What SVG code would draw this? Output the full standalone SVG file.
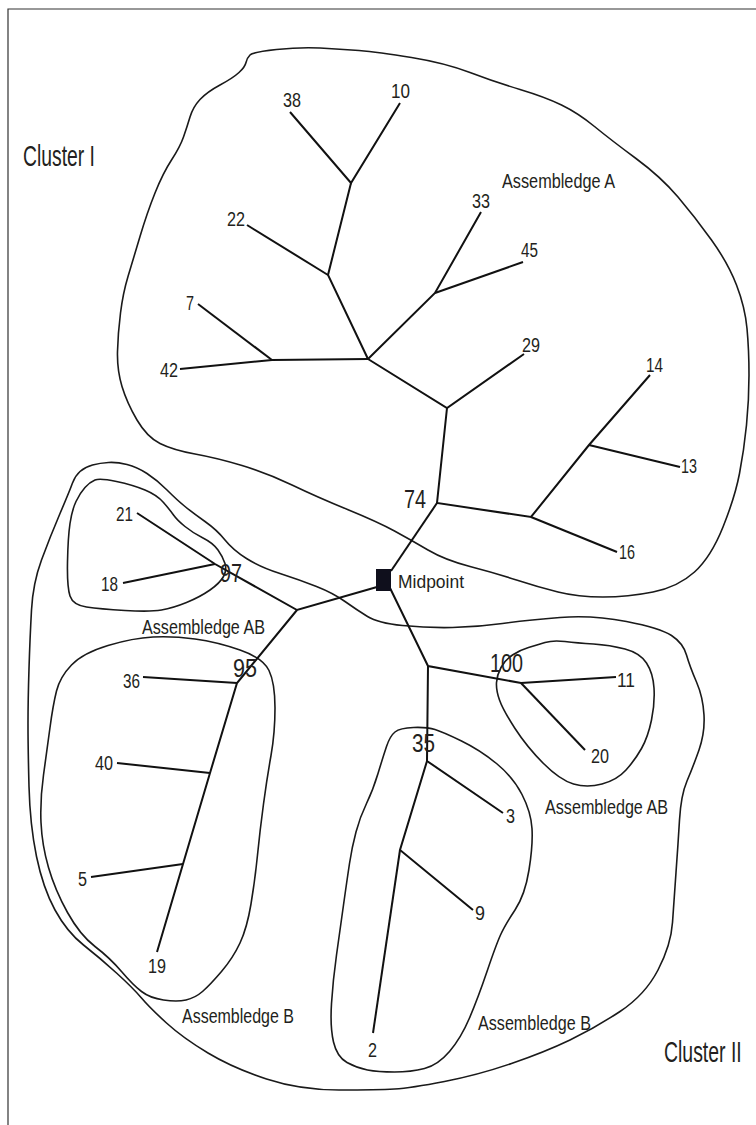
<svg xmlns="http://www.w3.org/2000/svg" width="756" height="1125" viewBox="0 0 756 1125">
<style>
.frame{fill:none;stroke:#333;stroke-width:1.2}
.outline{fill:none;stroke:#1a1a1a;stroke-width:1.6;stroke-linejoin:round}
.edge{fill:none;stroke:#111;stroke-width:2;stroke-linecap:butt;stroke-linejoin:miter}
text{font-family:"Liberation Sans",Arial,sans-serif;fill:#231f20}
.num{font-size:20px}
.big{font-size:26px}
.grp{font-size:21px}
.clu{font-size:29px}
.mid{font-size:18px}
</style>
<rect width="756" height="1125" fill="#fff"/>
<path class="frame" d="M8,1125 V9 H756"/>

<g id="outlines">
<path id="assemblage-A" class="outline" d="M 250,55 Q 253,52 276.5,49.5 Q 300,47 320,48 Q 340,49 359,50.5 Q 378,52 411.5,57.5 Q 445,63 470,72.5 Q 495,82 520,89.5 Q 545,97 561.5,105 Q 578,113 594.5,126.5 Q 611,140 636,158.5 Q 661,177 678,197 Q 695,217 711.5,240 Q 728,263 736.5,285 Q 745,307 747,328.5 Q 749,350 749,375 Q 749,400 746.5,425 Q 744,450 739.5,473.5 Q 735,497 723,527 Q 711,557 694.5,572 Q 678,587 653,592 Q 628,597 603,597 Q 578,597 558,592 Q 538,587 516.5,580 Q 495,573 470,566.5 Q 445,560 428,550 Q 411,540 394.5,531 Q 378,522 347.5,509.5 Q 317,497 292,485 Q 267,473 242,465.5 Q 217,458 195,454 Q 173,450 160,443.5 Q 147,437 137,420 Q 127,403 122,386.5 Q 117,370 117.5,351.5 Q 118,333 120.5,313 Q 123,293 128,276.5 Q 133,260 140,236.5 Q 147,213 155,193 Q 163,173 171.5,160 Q 180,147 183.5,137 Q 187,127 190,117 Q 193,107 200,99.5 Q 207,92 220,85 Q 233,78 239,72.5 Q 245,67 246,62.5 Q 247,58 250,55 Z"/>
<path id="cluster-II" class="outline" d="M 72.5,483 Q 75,476 80,471.5 Q 85,467 92.5,465 Q 100,463 108.5,462.5 Q 117,462 127,464.5 Q 137,467 147,473.5 Q 157,480 167,490 Q 177,500 185,506.5 Q 193,513 205,521.5 Q 217,530 225,540 Q 233,550 246.5,558.5 Q 260,567 280,573.5 Q 300,580 316.5,586.5 Q 333,593 345,601.5 Q 357,610 367.5,616.5 Q 378,623 402.5,625.5 Q 427,628 452.5,627.5 Q 478,627 502.5,623.5 Q 527,620 560,617.5 Q 593,615 626.5,621.5 Q 660,628 671.5,635.5 Q 683,643 686.5,655 Q 690,667 696.5,682 Q 703,697 704,715 Q 705,733 699,750 Q 693,767 687,781 Q 681,795 679.5,820 Q 678,845 676,872.5 Q 674,900 672.5,922.5 Q 671,945 658,970 Q 645,995 620,1011.5 Q 595,1028 570,1040 Q 545,1052 511.5,1063.5 Q 478,1075 444.5,1081.5 Q 411,1088 394.5,1089 Q 378,1090 339,1090 Q 300,1090 266.5,1079 Q 233,1068 208,1053 Q 183,1038 166.5,1023 Q 150,1008 141.5,998 Q 133,988 116.5,973 Q 100,958 83.5,945 Q 67,932 55,910 Q 43,888 36.5,856.5 Q 30,825 29,786.5 Q 28,748 28,724 Q 28,700 29,668.5 Q 30,637 31.5,610 Q 33,583 41.5,560 Q 50,537 60,513.5 Q 70,490 72.5,483 Z"/>
<path id="assemblage-AB-left" class="outline" d="M 95,480 Q 100,478 116.5,481.5 Q 133,485 145,490 Q 157,495 163.5,502.5 Q 170,510 173.5,515 Q 177,520 185,526.5 Q 193,533 203,538 Q 213,543 218,550 Q 223,557 225,563.5 Q 227,570 223.5,576.5 Q 220,583 210,590 Q 200,597 186.5,602.5 Q 173,608 161.5,610 Q 150,612 125,610.5 Q 100,609 86.5,607 Q 73,605 70,596 Q 67,587 67.5,562 Q 68,537 70,523.5 Q 72,510 76,501.5 Q 80,493 85,487.5 Q 90,482 95,480 Z"/>
<path id="assemblage-B-left" class="outline" d="M 56.5,691 Q 60,677 71.5,665 Q 83,653 108,645.5 Q 133,638 153,637 Q 173,636 195,639 Q 217,642 240,650 Q 263,658 269,670.5 Q 275,683 275,708 Q 275,733 271,755.5 Q 267,778 263.5,804 Q 260,830 257.5,855 Q 255,880 251,904 Q 247,928 240,943 Q 233,958 221.5,971.5 Q 210,985 202.5,991.5 Q 195,998 186,1000 Q 177,1002 163.5,1000 Q 150,998 141.5,991.5 Q 133,985 121.5,971.5 Q 110,958 95,946.5 Q 80,935 67.5,912.5 Q 55,890 48.5,867.5 Q 42,845 41,822.5 Q 40,800 43.5,775 Q 47,750 50,727.5 Q 53,705 56.5,691 Z"/>
<path id="assemblage-AB-right" class="outline" d="M 528.5,647.5 Q 537,645 545,642.5 Q 553,640 565,641.5 Q 577,643 593.5,644 Q 610,645 625,649 Q 640,653 646.5,663 Q 653,673 654,688 Q 655,703 651.5,720 Q 648,737 641.5,748.5 Q 635,760 626,770 Q 617,780 602,784 Q 587,788 573.5,784 Q 560,780 543.5,763.5 Q 527,747 515,728.5 Q 503,710 499.5,700 Q 496,690 496.5,682.5 Q 497,675 501,667.5 Q 505,660 512.5,655 Q 520,650 528.5,647.5 Z"/>
<path id="assemblage-B-right" class="outline" d="M 395,732 Q 400,728 413.5,727.5 Q 427,727 435,729.5 Q 443,732 461.5,741 Q 480,750 496.5,763.5 Q 513,777 522,794.5 Q 531,812 532,828.5 Q 533,845 529,870 Q 525,895 515,910 Q 505,925 500.5,935 Q 496,945 487,971.5 Q 478,998 469.5,1018 Q 461,1038 449.5,1051.5 Q 438,1065 424.5,1068.5 Q 411,1072 394.5,1072 Q 378,1072 367.5,1070 Q 357,1068 347,1062.5 Q 337,1057 333.5,1042 Q 330,1027 331.5,1003.5 Q 333,980 336.5,955 Q 340,930 343.5,905 Q 347,880 349.5,863.5 Q 352,847 356,832 Q 360,817 366.5,803.5 Q 373,790 378,773.5 Q 383,757 386.5,746.5 Q 390,736 395,732 Z"/>
</g>

<g id="connectors">
<path class="edge" d="M290,112 L351,183 L400,103"/>
<path class="edge" d="M351,183 L328,275 L368,359"/>
<path class="edge" d="M247,225 L328,275"/>
<path class="edge" d="M198,304 L272,360"/>
<path class="edge" d="M180,369 L272,360 L368,359"/>
<path class="edge" d="M368,359 L435,293 L481,212"/>
<path class="edge" d="M435,293 L523,262"/>
<path class="edge" d="M368,359 L447,408 L524,354"/>
<path class="edge" d="M447,408 L437,503 L531,517 L589,445 L650,375"/>
<path class="edge" d="M589,445 L680,467"/>
<path class="edge" d="M531,517 L617,552"/>
<path class="edge" d="M437,503 L391,571"/>
<path class="edge" d="M377,587 L297,610 L215,564 L137,513"/>
<path class="edge" d="M123,583 L215,564"/>
<path class="edge" d="M297,610 L237,683 L210,773 L183,864 L157,952"/>
<path class="edge" d="M143,677 L237,683"/>
<path class="edge" d="M117,763 L210,773"/>
<path class="edge" d="M91,877 L183,864"/>
<path class="edge" d="M390,588 L428,666 L521,683 L616,677"/>
<path class="edge" d="M521,683 L585,750"/>
<path class="edge" d="M428,666 L427,761 L503,813"/>
<path class="edge" d="M427,761 L400,850 L473,910"/>
<path class="edge" d="M400,850 L373,1033"/>
</g>

<g id="midpoint">
<rect x="376" y="569" width="15" height="22" fill="#0f0f1c"/>
<text class="mid" x="398" y="588" textLength="66" lengthAdjust="spacingAndGlyphs">Midpoint</text>
</g>

<g id="labels">
<text class="clu" x="23" y="166" textLength="72" lengthAdjust="spacingAndGlyphs">Cluster I</text>
<text class="clu" transform="translate(664,1062) scale(0.67,1)" x="0" y="0">Cluster II</text>
<text class="grp" x="502" y="188" textLength="113" lengthAdjust="spacingAndGlyphs">Assembledge A</text>
<text class="grp" x="142" y="634" textLength="123" lengthAdjust="spacingAndGlyphs">Assembledge AB</text>
<text class="grp" x="182" y="1023" textLength="112" lengthAdjust="spacingAndGlyphs">Assembledge B</text>
<text class="grp" x="545" y="814" textLength="123" lengthAdjust="spacingAndGlyphs">Assembledge AB</text>
<text class="grp" x="478" y="1030" textLength="113" lengthAdjust="spacingAndGlyphs">Assembledge B</text>
</g>

<g id="nodes">
<g id="n38"><text class="num" x="283" y="107" textLength="18" lengthAdjust="spacingAndGlyphs">38</text></g>
<g id="n10"><text class="num" x="391" y="98" textLength="19" lengthAdjust="spacingAndGlyphs">10</text></g>
<g id="n22"><text class="num" x="227" y="226" textLength="18" lengthAdjust="spacingAndGlyphs">22</text></g>
<g id="n7"><text class="num" x="186" y="310" textLength="8" lengthAdjust="spacingAndGlyphs">7</text></g>
<g id="n42"><text class="num" x="160" y="377" textLength="18" lengthAdjust="spacingAndGlyphs">42</text></g>
<g id="n33"><text class="num" x="472" y="208" textLength="18" lengthAdjust="spacingAndGlyphs">33</text></g>
<g id="n45"><text class="num" x="521" y="257" textLength="17" lengthAdjust="spacingAndGlyphs">45</text></g>
<g id="n29"><text class="num" x="522" y="352" textLength="18" lengthAdjust="spacingAndGlyphs">29</text></g>
<g id="n14"><text class="num" x="646" y="372" textLength="17" lengthAdjust="spacingAndGlyphs">14</text></g>
<g id="n13"><text class="num" x="681" y="473" textLength="16" lengthAdjust="spacingAndGlyphs">13</text></g>
<g id="n16"><text class="num" x="619" y="559" textLength="16" lengthAdjust="spacingAndGlyphs">16</text></g>
<g id="b74"><text class="big" x="404" y="508" textLength="22" lengthAdjust="spacingAndGlyphs">74</text></g>
<g id="n21"><text class="num" x="116" y="521" textLength="17" lengthAdjust="spacingAndGlyphs">21</text></g>
<g id="n18"><text class="num" x="101" y="591" textLength="17" lengthAdjust="spacingAndGlyphs">18</text></g>
<g id="b97"><text class="big" x="220" y="582" textLength="22" lengthAdjust="spacingAndGlyphs">97</text></g>
<g id="b95"><text class="big" x="233" y="677" textLength="24" lengthAdjust="spacingAndGlyphs">95</text></g>
<g id="n36"><text class="num" x="123" y="688" textLength="17" lengthAdjust="spacingAndGlyphs">36</text></g>
<g id="n40"><text class="num" x="95" y="770" textLength="18" lengthAdjust="spacingAndGlyphs">40</text></g>
<g id="n5"><text class="num" x="78" y="886" textLength="9" lengthAdjust="spacingAndGlyphs">5</text></g>
<g id="n19"><text class="num" x="148" y="973" textLength="18" lengthAdjust="spacingAndGlyphs">19</text></g>
<g id="b100"><text class="big" x="490" y="672" textLength="33" lengthAdjust="spacingAndGlyphs">100</text></g>
<g id="n11"><text class="num" x="617" y="687" textLength="18" lengthAdjust="spacingAndGlyphs">11</text></g>
<g id="n20"><text class="num" x="591" y="763" textLength="18" lengthAdjust="spacingAndGlyphs">20</text></g>
<g id="b35"><text class="big" x="412" y="752" textLength="23" lengthAdjust="spacingAndGlyphs">35</text></g>
<g id="n3"><text class="num" x="506" y="823" textLength="9" lengthAdjust="spacingAndGlyphs">3</text></g>
<g id="n9"><text class="num" x="475" y="920" textLength="10" lengthAdjust="spacingAndGlyphs">9</text></g>
<g id="n2"><text class="num" x="368" y="1057" textLength="9" lengthAdjust="spacingAndGlyphs">2</text></g>
</g>
</svg>
